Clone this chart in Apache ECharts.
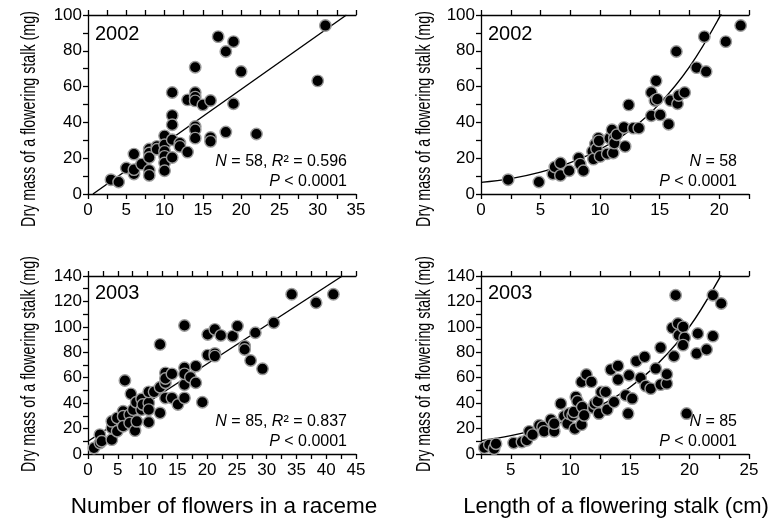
<!DOCTYPE html>
<html><head><meta charset="utf-8">
<script src="https://cdn.jsdelivr.net/npm/echarts@6/dist/echarts.min.js"></script>
<style>html,body{margin:0;padding:0;background:#fff}#c{width:781px;height:521px}</style>
</head><body><div id="c"></div>
<script>
// ---- data ----
const flowers2002 = [[3,8],[4,6.7],[5,14.5],[6,22.3],[6,11.2],[6,13.6],[7,16.7],[8,25.1],[8,22.9],[8,20.4],[8,13.2],[8,10.4],[9,26.6],[9,25],[10,32.5],[10,27.5],[10,23.8],[10,21],[10,17.3],[10,13],[11,56.7],[11,43.9],[11,38.7],[11,30.3],[11,20.4],[12,28.4],[12,26.6],[13,23.4],[13,52.6],[14,70.8],[14,56.7],[14,54.1],[14,52],[14,37.7],[14,35.9],[14,31.2],[15,49.8],[16,52.2],[16,31.6],[16,29.4],[17,87.9],[18,79.6],[18,34.6],[19,85.1],[19,50.4],[20,68.4],[22,33.5],[30,63.2],[31,94.1]];
const length2002 = [[2.28,8],[4.86,6.7],[6.03,11.2],[6.2,15.1],[6.67,17.3],[6.67,10.4],[7.4,13],[8.2,20.1],[8.33,16.7],[8.6,13],[9.36,23.8],[9.44,19.5],[9.6,27.9],[9.7,25.3],[9.86,31.2],[9.9,29.7],[10,21],[10.6,22.5],[10.8,31.2],[11,35.9],[11.1,22.9],[11.2,31.2],[11.2,28.4],[11.4,33.1],[12,37.2],[12.1,26.6],[12.4,49.8],[12.8,36.8],[13.25,36.8],[14.3,43.7],[14.3,56.7],[14.6,52.2],[14.7,63.2],[14.8,53],[15.05,44.2],[15.75,39],[15.9,52.2],[16.4,79.6],[16.5,50.4],[16.6,55],[17.1,56.7],[18.1,70.6],[18.75,87.9],[18.9,68.4],[20.55,85.1],[21.8,94.1]];
const flowers2003 = [[1,4.7],[2,8.7],[2,15.2],[2.3,10],[4,11.3],[4,20.5],[4,25.7],[4.9,17.9],[4.9,28.4],[5.9,33.6],[5.9,29.7],[5.9,21.8],[6.2,57.8],[7,31],[7,24.4],[7.2,47.3],[7.6,34.9],[7.9,18.4],[8.1,40.7],[8.2,25.7],[9,43.3],[9,34.9],[9.2,38.9],[10.2,40.2],[10.2,34.9],[10.2,48.9],[10.2,25],[11.1,48.9],[12.1,32.3],[12.1,52.5],[12.1,86.2],[13,56],[13,63.8],[13,59.4],[13,44.1],[14.1,63],[14.1,44.1],[15.1,38.9],[16.2,101.1],[16.2,67.8],[16.2,54.6],[16.2,44.1],[16.2,63],[17.2,60.4],[18.1,69.1],[18.1,56],[19.2,40.7],[20.1,94],[20.1,77.8],[21.3,98],[21.3,79.1],[21.3,77],[22.3,93.3],[24.3,92.7],[25.1,100.6],[26.3,84.8],[26.3,82.2],[27.3,73.5],[28.1,95.4],[29.3,67],[31.2,103.2],[34.2,125.6],[38.3,119],[41.2,125.6]];
const length2003 = [[2.78,5],[3.2,7.3],[3.6,4.2],[3.76,8.1],[5.24,8.7],[5.94,9.4],[6.35,10.8],[6.55,17.8],[6.83,15.2],[7.39,22.6],[7.67,21.3],[7.8,17.8],[8.37,27],[8.65,17.8],[8.65,23.9],[9.2,39.6],[9.48,29.7],[9.76,23.9],[9.9,31.8],[10.2,30.4],[10.3,33.1],[10.38,19.9],[10.46,44.9],[10.6,41.5],[10.94,23.1],[11,37],[11.16,30.4],[10.94,56.7],[11.35,62.5],[11.77,56.7],[11.94,36.2],[12.05,39.6],[12.3,41.5],[12.4,31.8],[12.6,48.8],[12.97,48.8],[13.1,34.9],[13.67,40.9],[13.4,66.4],[14,58.5],[14,69.3],[14.65,46.2],[14.85,31.8],[15.2,43.6],[14.93,61.9],[15.54,73],[15.9,59.8],[16.24,76.4],[16.33,53.5],[16.75,51.4],[17.17,67.2],[17.58,83.7],[17.58,54.6],[18.1,55.4],[18.1,62.7],[18.7,76.9],[18.56,99.2],[18.84,124.9],[19.04,102.6],[19.1,93.4],[19.48,100],[19.6,91.3],[19.46,85.6],[19.76,31.8],[20.7,94.8],[20.6,79],[21.44,82.2],[21.97,92.7],[21.97,124.9],[22.67,118.4]];
// fitted lines / curves
const fitFlowers2002 = [[0.65,0],[33.75,100]];
const fitLength2002 = [[0,6.5],[2.5,8.6],[5,12.2],[7.5,17.5],[10,25],[12.5,35.5],[15,50.5],[17.5,71],[20,98.5],[21,113]];
const fitFlowers2003 = [[0,10],[42.7,140]];
const fitLength2003 = [[2.5,10.5],[5,14.5],[7.5,20],[10,27.5],[12.5,38],[15,52.5],[17.5,72.5],[20,100],[22.5,138],[23,149]];
const years = ['2002','2002','2003','2003'];
const stats = [['58','0.596'],['58',null],['85','0.837'],['85',null]];
const xRanges = [[0,35],[0,22.5],[0,45],[2.5,25]];
const yRanges = [[0,100],[0,100],[0,140],[0,140]];
const yTitle = 'Dry mass of a flowering stalk (mg)';
const xTitles = ['Number of flowers in a raceme', 'Length of a flowering stalk (cm)'];

const FONT = '"Liberation Sans", Arial, Helvetica, sans-serif';
const chart = echarts.init(document.getElementById('c'));

const grids = [
  {left:88, top:15, width:268, height:179},
  {left:481, top:15, width:268, height:179},
  {left:88, top:276, width:268, height:178},
  {left:481, top:276, width:268, height:178}
].map(g => Object.assign(g, {outerBoundsMode:'none', containLabel:false}));
const axisLine = {show:true, onZero:false, lineStyle:{color:'#000', width:1.3}};
const axisTick = {show:true, inside:false, length:5, lineStyle:{color:'#000', width:1.3}};
const mult = (v, m) => Math.abs(v/m - Math.round(v/m)) < 1e-9;

const xAxis = [], yAxis = [];
for (let i = 0; i < 4; i++) {
  xAxis.push({
    type:'value', gridIndex:i, position:'bottom', min:xRanges[i][0], max:xRanges[i][1], interval:2.5,
    axisLine, axisTick, splitLine:{show:false},
    axisLabel:{color:'#000', fontSize:17, fontFamily:FONT, margin:8, showMinLabel:true, showMaxLabel:true,
      formatter:v => mult(v,5) ? String(v) : ''}
  });
  xAxis.push({
    type:'value', gridIndex:i, position:'top', min:xRanges[i][0], max:xRanges[i][1], interval:2.5,
    axisLine, axisTick, splitLine:{show:false}, axisLabel:{show:false}
  });
  yAxis.push({
    type:'value', gridIndex:i, position:'left', min:yRanges[i][0], max:yRanges[i][1], interval:10,
    axisLine, axisTick, splitLine:{show:false},
    axisLabel:{color:'#000', fontSize:17, fontFamily:FONT, margin:6, showMinLabel:true, showMaxLabel:true,
      formatter:v => mult(v,20) ? String(v) : ''}
  });
}

const pts = [flowers2002, length2002, flowers2003, length2003];
const fits = [fitFlowers2002, fitLength2002, fitFlowers2003, fitLength2003];
const series = [];
for (let i = 0; i < 4; i++) {
  series.push({
    type:'line', xAxisIndex:2*i, yAxisIndex:i, data:fits[i], showSymbol:false, smooth:(i%2===1)?0.4:false,
    lineStyle:{color:'#000', width:1.4}, clip:true, silent:true, z:1
  });
  series.push({
    type:'scatter', xAxisIndex:2*i, yAxisIndex:i, data:pts[i], symbolSize:11.5,
    itemStyle:{color:'#000', borderColor:'#9c9c9c', borderWidth:1.4, opacity:1}, z:2
  });
}

const graphic = [];
const yearPos = [[95,34],[488,34],[95,293],[488,293]];
const statRight = [347,737,347,737];
const statY = [[162,182],[162,182],[422,442],[422,442]];
const rich = {i:{fontStyle:'italic', fontSize:16, fontFamily:FONT, fill:'#000'}, n:{fontSize:16, fontFamily:FONT, fill:'#000'}};
for (let i = 0; i < 4; i++) {
  graphic.push({type:'text', x:yearPos[i][0], y:yearPos[i][1], style:{text:years[i], fontSize:20, fontFamily:FONT, fill:'#000', align:'left', verticalAlign:'middle'}});
  const s = stats[i];
  const t1 = s[1] ? `{i|N}{n| = ${s[0]}, }{i|R}{n|² = ${s[1]}}` : `{i|N}{n| = ${s[0]}}`;
  graphic.push({type:'text', x:statRight[i], y:statY[i][0], style:{text:t1, rich, fontSize:16, fontFamily:FONT, fill:'#000', align:'right', verticalAlign:'middle'}});
  graphic.push({type:'text', x:statRight[i], y:statY[i][1], style:{text:'{i|P}{n| < 0.0001}', rich, fontSize:16, fontFamily:FONT, fill:'#000', align:'right', verticalAlign:'middle'}});
}
// axis titles
const yTitlePos = [[29,119],[424,119],[29,364],[424,364]];
yTitlePos.forEach(p => graphic.push({type:'text', x:p[0], y:p[1], rotation:Math.PI/2, scaleX:0.68,
  style:{text:yTitle, fontSize:21, fontFamily:FONT, fill:'#000', align:'center', verticalAlign:'middle'}}));
graphic.push({type:'text', x:224, y:507, style:{text:xTitles[0], fontSize:22.5, fontFamily:FONT, fill:'#000', align:'center', verticalAlign:'middle'}});
graphic.push({type:'text', x:616, y:507, style:{text:xTitles[1], fontSize:22, fontFamily:FONT, fill:'#000', align:'center', verticalAlign:'middle'}});

chart.setOption({animation:false, backgroundColor:'#fff', grid:grids, xAxis, yAxis, series, graphic});
</script></body></html>
